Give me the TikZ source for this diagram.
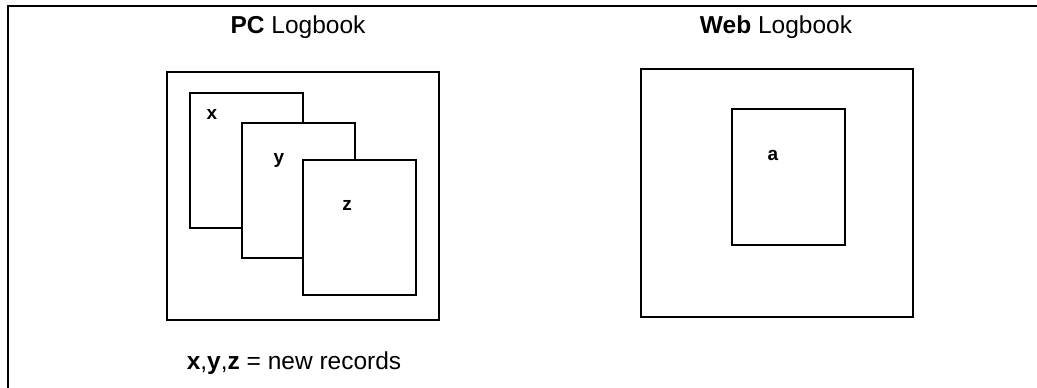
\documentclass[tikz,border=0pt]{standalone}
\usepackage{fontspec}
\setmainfont{Liberation Sans}
\begin{document}
\begin{tikzpicture}[x=1pt,y=-1pt,
  frame/.style={draw=black, line width=1.6pt, fill=white, inner sep=0pt, anchor=north west},
  card/.style={frame, minimum width=113pt, minimum height=135pt},
  title/.style={font=\fontsize{24.5}{29}\selectfont, inner sep=0pt},
  tag/.style={font=\fontsize{19}{22}\selectfont\bfseries, inner sep=0pt}]
\useasboundingbox (0,0) rectangle (1037,388);
\begin{scope}
  \clip (0,0) rectangle (1037,388);
  \draw[line width=1.6pt] (8,6) rectangle (1060,410);
\end{scope}

% titles
\node[title] (pctitle) at (298,27) {\textbf{PC} Logbook};
\node[title] (webtitle) at (776,27) {\textbf{Web} Logbook};

% PC logbook with three stacked records
\node[frame, minimum width=272pt, minimum height=248pt] (pc) at (166,71) {};
\node[card] (cx) at (189,92) {};
\node[tag] (lx) at (212,114) {x};
\node[card] (cy) at (241,122) {};
\node[tag] (ly) at (279,160) {y};
\node[card] (cz) at (302,159) {};
\node[tag] (lz) at (347,205) {z};

% Web logbook with one record
\node[frame, minimum width=272pt, minimum height=248pt] (web) at (640,68) {};
\node[frame, minimum width=113pt, minimum height=136pt] (ca) at (731,108) {};
\node[tag] (la) at (773,155) {a};

% legend
\node[title, anchor=base] (legend) at (294,369) {\textbf{x},\textbf{y},\textbf{z} = new records};
\end{tikzpicture}
\end{document}
